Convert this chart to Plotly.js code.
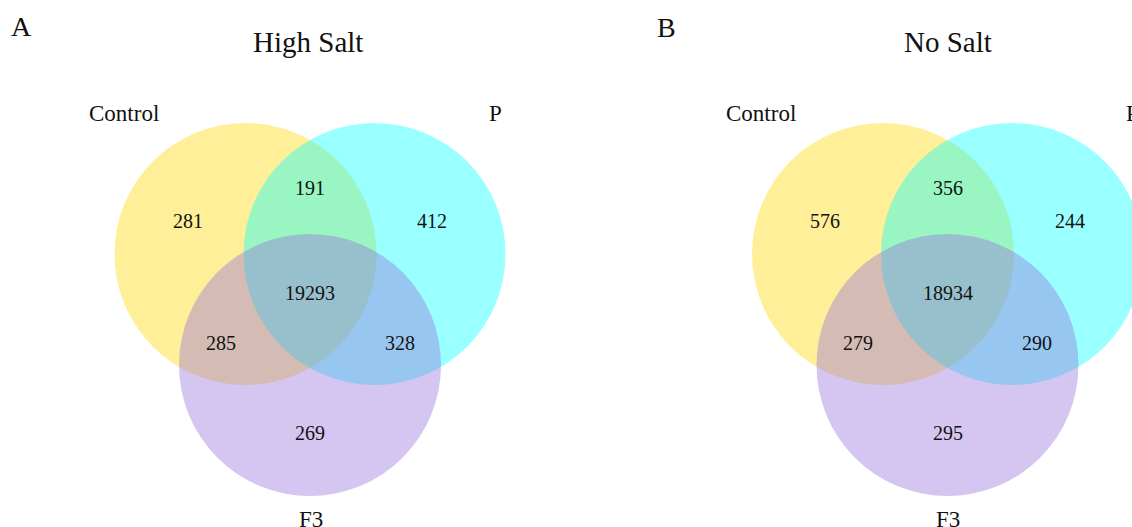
<!DOCTYPE html>
<html>
<head>
<meta charset="utf-8">
<script src="https://cdn.plot.ly/plotly-3.0.1.min.js"></script>
<style>
  html, body { margin: 0; padding: 0; background: #ffffff; }
  #chart { width: 1132px; height: 527px; }
</style>
</head>
<body>
<div id="chart"></div>
<script>
// Three-set Venn diagrams of shared and unique genes under two salt conditions.
const panelLetters = ['A', 'B'];
const panelTitles = ['High Salt', 'No Salt'];
const setNames = ['Control', 'P', 'F3'];
const setColors = ['gold', 'cyan', 'mediumpurple'];

// Region order: Control only, P only, F3 only, Control∩P, Control∩F3, P∩F3, all three
const regionNames = ['Control only', 'P only', 'F3 only', 'Control & P', 'Control & F3', 'P & F3', 'Control & P & F3'];
const highSaltCounts = [281, 412, 269, 191, 285, 328, 19293];
const noSaltCounts = [576, 244, 295, 356, 279, 290, 18934];
const panelCounts = [highSaltCounts, noSaltCounts];

// Geometry (pixel-space axes)
const W = 1132, H = 527;
const panelCenterX = [310, 947.5];
const topRowY = 254;        // centre height of the Control and P circles
const bottomY = 365;        // centre height of the F3 circle
const halfGap = 64.5;       // horizontal offset of Control / P circles from panel centre
const radius = 131;

// Label offsets of each region relative to (panel centre, topRowY)
const regionOffsets = [
  [-122.5, -33], [122, -33], [0, 178.5],
  [0, -66.5], [-89.5, 89], [89.5, 89], [0, 38.5]
];

const serif = '"Liberation Serif", "Times New Roman", Times, serif';
const ink = '#111111';

// pixel -> paper coordinates (paper refs let labels sit past the plot edge)
const px = x => x / W;
const py = y => 1 - y / H;

const shapes = [];
const annotations = [];

panelCenterX.forEach((cx, p) => {
  const centres = [
    [cx - halfGap, topRowY],
    [cx + halfGap, topRowY],
    [cx, bottomY]
  ];
  centres.forEach(([x, y], i) => {
    shapes.push({
      type: 'circle', xref: 'x', yref: 'y',
      x0: x - radius, x1: x + radius, y0: y - radius, y1: y + radius,
      fillcolor: setColors[i], opacity: 0.4,
      line: { width: 0 }, layer: 'above'
    });
  });

  // region counts
  panelCounts[p].forEach((v, k) => {
    annotations.push({
      x: cx + regionOffsets[k][0], y: topRowY + regionOffsets[k][1],
      xref: 'x', yref: 'y', text: String(v), showarrow: false,
      xanchor: 'center', yanchor: 'middle',
      font: { family: serif, size: 20, color: ink }
    });
  });

  // set names
  const nameSpots = [[cx - 186.5, 113.8], [cx + 185, 113.8], [cx + 0.5, 519.5]];
  setNames.forEach((name, i) => {
    annotations.push({
      x: px(nameSpots[i][0]), y: py(nameSpots[i][1]), xref: 'paper', yref: 'paper',
      text: name, showarrow: false, xanchor: 'center', yanchor: 'middle',
      font: { family: serif, size: 23, color: ink }
    });
  });

  // panel title
  annotations.push({
    x: cx - 2.5 + p * 2.5, y: 41.5, xref: 'x', yref: 'y',
    text: panelTitles[p], showarrow: false, xanchor: 'center', yanchor: 'middle',
    font: { family: serif, size: 29, color: ink }
  });
});

// panel letters
[[21.3, 26.8], [666.5, 27.5]].forEach(([x, y], p) => {
  annotations.push({
    x: x, y: y, xref: 'x', yref: 'y', text: panelLetters[p], showarrow: false,
    xanchor: 'center', yanchor: 'middle',
    font: { family: serif, size: 28, color: ink }
  });
});

const layout = {
  width: W, height: H,
  margin: { l: 0, r: 0, t: 0, b: 0, pad: 0 },
  paper_bgcolor: '#ffffff', plot_bgcolor: '#ffffff',
  showlegend: false,
  xaxis: { range: [0, W], visible: false, fixedrange: true },
  yaxis: { range: [H, 0], visible: false, fixedrange: true },
  shapes: shapes,
  annotations: annotations
};

Plotly.newPlot('chart', [{ x: [], y: [], type: 'scatter', mode: 'markers', hoverinfo: 'skip' }], layout,
  { staticPlot: true, displayModeBar: false });
</script>
</body>
</html>
